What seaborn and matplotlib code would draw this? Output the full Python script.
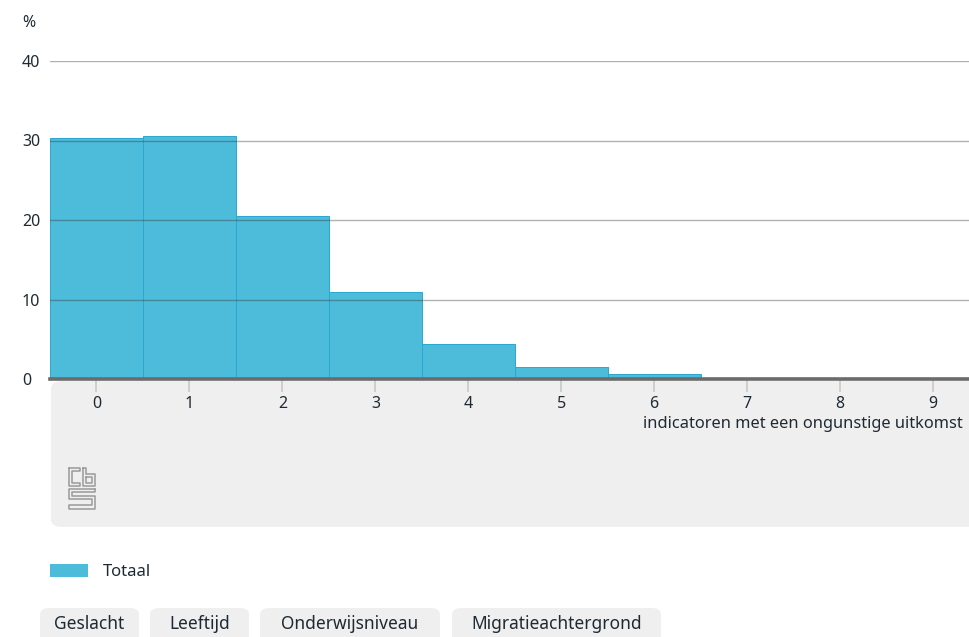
import matplotlib
matplotlib.use("Agg")
import matplotlib.pyplot as plt
import seaborn as sns
import pandas as pd
from matplotlib.patches import FancyBboxPatch, Patch
from matplotlib.lines import Line2D

# data
indicatoren = [0, 1, 2, 3, 4, 5, 6, 7, 8, 9]
totaal = [30.3, 30.6, 20.5, 10.9, 4.4, 1.5, 0.6, 0.0, 0.0, 0.0]
y_ticks = [0, 10, 20, 30, 40]
knoppen = ["Geslacht", "Leeftijd", "Onderwijsniveau", "Migratieachtergrond"]

W, H = 969, 637
BAR = "#4dbcdb"
TXT = "#1e2a33"
PANEL = "#efefef"

sns.set_theme(style="white")
plt.rcParams["font.family"] = ["Noto Sans", "DejaVu Sans"]


def fx(px):
    return px / W


def fy(py):
    return 1 - py / H


df = pd.DataFrame({"n": indicatoren, "pct": totaal})

fig = plt.figure(figsize=(W / 100, H / 100), dpi=100)
fig.patch.set_facecolor("white")

# grey panel under the axis
panel = FancyBboxPatch((fx(51), fy(527)), fx(1100 - 51), (527 - 381) / H,
                       boxstyle="round,pad=0,rounding_size=0.012",
                       transform=fig.transFigure, facecolor=PANEL,
                       edgecolor="none", zorder=-2)
fig.add_artist(panel)

ax = fig.add_axes([fx(50), fy(379), (979.5 - 50) / W, (379 - 61) / H])
ax.patch.set_alpha(0)
sns.barplot(data=df, x="n", y="pct", color=BAR, width=1.0, saturation=1,
            edgecolor="#2aa8cf", linewidth=0.7, ax=ax)
ax.set_xlim(-0.5, 9.5)
ax.set_ylim(0, 40)
ax.set_yticks(y_ticks)
ax.set_xticks(range(len(indicatoren)))
ax.set_xticklabels([str(i) for i in indicatoren])

ax.yaxis.grid(True, color="#333333", alpha=0.38, linewidth=1)
ax.xaxis.grid(False)
ax.set_axisbelow(False)
for s in ["top", "right", "left"]:
    ax.spines[s].set_visible(False)
ax.spines["bottom"].set_color("#6b6b6b")
ax.spines["bottom"].set_linewidth(2.6)
ax.spines["bottom"].set_zorder(5)

ax.tick_params(axis="y", length=0, pad=20.2, labelsize=11.5, labelcolor=TXT)
for lab in ax.get_yticklabels():
    lab.set_horizontalalignment("left")
ax.tick_params(axis="x", direction="out", length=9.5, width=1.4,
               color="#cfcfcf", pad=3, labelsize=11.5, labelcolor=TXT,
               bottom=True)

ax.set_ylabel("")
ax.set_xlabel("indicatoren met een ongunstige uitkomst", fontsize=11.8,
              color=TXT, ha="right")
ax.xaxis.set_label_coords(fx(963), fy(424), transform=fig.transFigure)
ax.xaxis.label.set_verticalalignment("center")

fig.text(fx(22), fy(23), "%", fontsize=11.5, color=TXT, va="center", ha="left")

# cbs logo (rough outline)
logo = "#9a9a9a"
segs = [
    [(69, 468), (80, 468), (80, 471), (72, 471), (72, 483), (80, 483), (80, 486), (69, 486), (69, 468)],
    [(83, 468), (86, 468), (86, 474), (95, 474), (95, 486), (83, 486), (83, 468)],
    [(86, 477), (92, 477), (92, 483), (86, 483), (86, 477)],
    [(95, 489), (69, 489), (69, 499), (92, 499), (92, 505), (69, 505), (69, 509), (95, 509), (95, 496), (72, 496), (72, 492), (95, 492), (95, 489)],
]
for seg in segs:
    xs = [fx(p[0]) for p in seg]
    ys = [fy(p[1]) for p in seg]
    fig.add_artist(Line2D(xs, ys, transform=fig.transFigure, color=logo, lw=1.1))

# legend
leg = ax.legend(handles=[Patch(facecolor=BAR, edgecolor="none", label="Totaal")],
                loc="center left", bbox_to_anchor=(fx(50), fy(572)),
                bbox_transform=fig.transFigure, frameon=False, fontsize=12,
                handlelength=2.3, handleheight=0.85, handletextpad=0.85,
                borderpad=0, borderaxespad=0)
for t in leg.get_texts():
    t.set_color(TXT)

# filter buttons
knop_x = [(40, 139), (150, 249), (260, 440), (452, 661)]
for label, (x0, x1) in zip(knoppen, knop_x):
    b = FancyBboxPatch((fx(x0), fy(645)), fx(x1 - x0), (645 - 608) / H,
                       boxstyle="round,pad=0,rounding_size=0.01",
                       transform=fig.transFigure, facecolor=PANEL,
                       edgecolor="none", zorder=-2)
    fig.add_artist(b)
    fig.text(fx((x0 + x1) / 2), fy(624), label, fontsize=12.5, color=TXT,
             ha="center", va="center")

fig.savefig("out.png", dpi=100)
